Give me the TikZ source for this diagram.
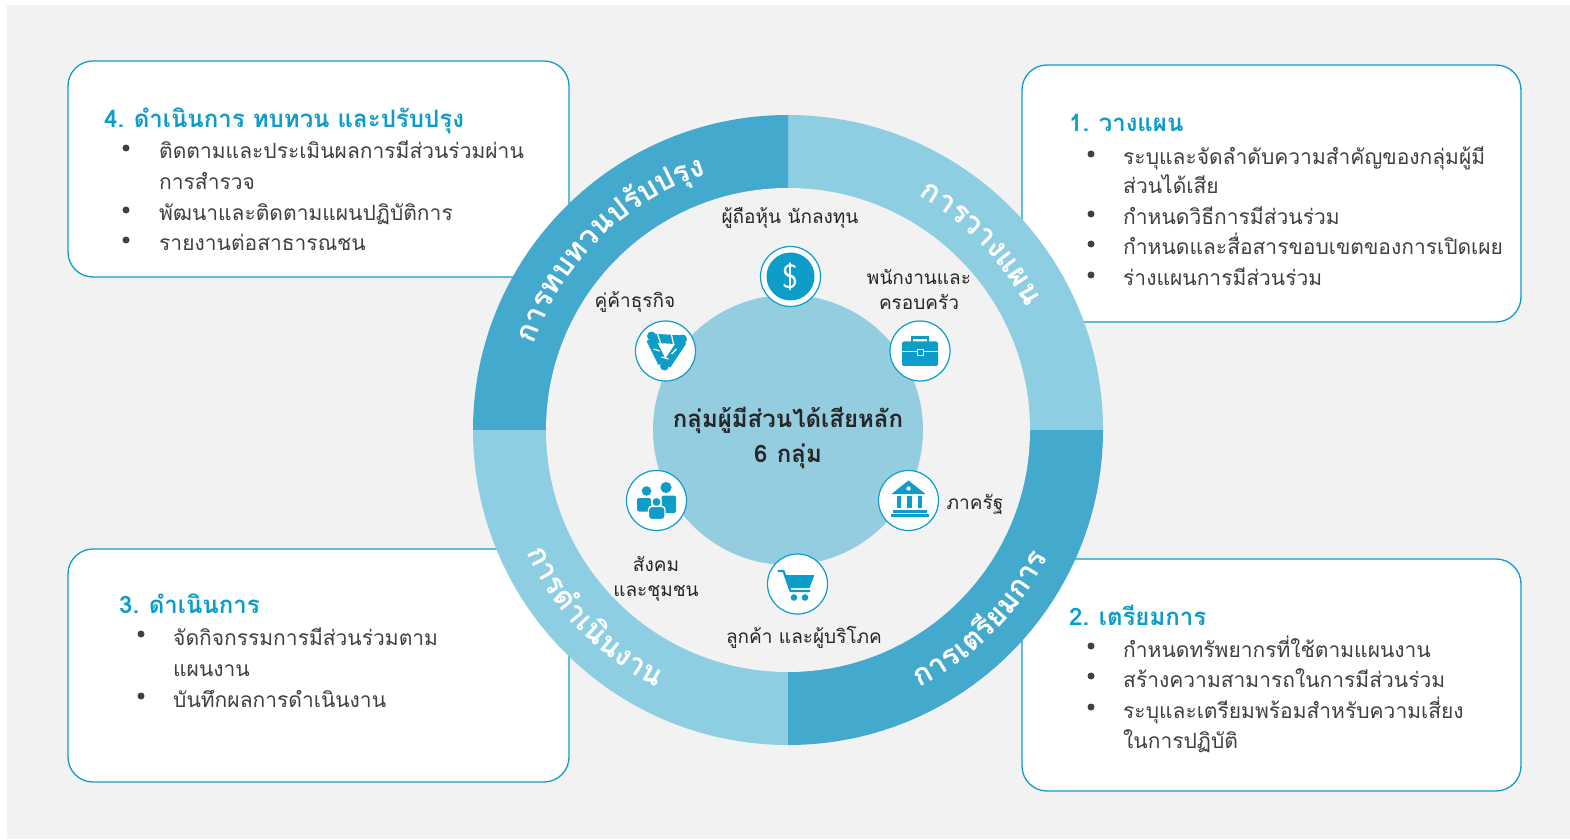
\documentclass[tikz,border=0pt]{standalone}
\usepackage{fontspec}
\setmainfont[Script=Thai]{Loma}
\usetikzlibrary{decorations.text, positioning, calc}

\definecolor{bggray}{HTML}{F2F2F2}
\definecolor{ringdark}{HTML}{43A9CD}
\definecolor{ringlight}{HTML}{8ECEE2}
\definecolor{hubblue}{HTML}{94CDDF}
\definecolor{stakecyan}{HTML}{0E9DC8}
\definecolor{bodygray}{HTML}{404040}
\newcommand{\ringfont}{\bfseries\fontsize{30}{30}\selectfont}

\tikzset{
  stepcard/.style={draw=stakecyan, line width=1.3pt, fill=white, rounded corners=25pt},
  cardhead/.style={anchor=base west, inner sep=0pt, text=stakecyan, font=\bfseries\fontsize{24}{24}\selectfont},
  cardline/.style={anchor=base west, inner sep=0pt, text=bodygray, font=\fontsize{21}{21}\selectfont},
  grouplabel/.style={anchor=base, inner sep=0pt, text=black!85, font=\fontsize{19}{19}\selectfont},
  hubtext/.style={anchor=base, inner sep=0pt, text=black!85, font=\bfseries\fontsize{24}{24}\selectfont},
  iconring/.style={circle, draw=stakecyan, line width=1.2pt, fill=white, minimum size=60pt, inner sep=0pt},
  ringtext/.style={decorate, decoration={text along path, text align=center, text color=white}}
}

\begin{document}
\begin{tikzpicture}[x=1pt,y=1pt]
\useasboundingbox (0,0) rectangle (1570,839);
\fill[bggray] (7,0) rectangle (1570,834);

% step cards
\draw[stepcard] (68,562) rectangle (569,778);
\draw[stepcard] (1022,517) rectangle (1521,774);
\draw[stepcard] (68,57) rectangle (569,290);
\draw[stepcard] (1022,48) rectangle (1521,280);

% card 1
\node[cardhead] (head1) at (1069,707) {1.\hspace{0.4em}วางแผน};
\foreach \yy/\txt [count=\i] in {674/ระบุและจัดลำดับความสำคัญของกลุ่มผู้มี, 645/ส่วนได้เสีย,
    614/กำหนดวิธีการมีส่วนร่วม, 584/กำหนดและสื่อสารขอบเขตของการเปิดเผย, 553/ร่างแผนการมีส่วนร่วม}
  \node[cardline] (line1-\i) at (1123,\yy) {\txt};
\foreach \yy in {674,614,584,553} \fill[bodygray] (1091,\yy+11) circle (3.5);

% card 2
\node[cardhead] (head2) at (1069,214) {2.\hspace{0.4em}เตรียมการ};
\foreach \yy/\txt [count=\i] in {182/กำหนดทรัพยากรที่ใช้ตามแผนงาน, 152/สร้างความสามารถในการมีส่วนร่วม,
    121/ระบุและเตรียมพร้อมสำหรับความเสี่ยง, 91/ในการปฏิบัติ}
  \node[cardline] (line2-\i) at (1123,\yy) {\txt};
\foreach \yy in {182,152,121} \fill[bodygray] (1091,\yy+11) circle (3.5);

% card 3
\node[cardhead] (head3) at (119,226) {3.\hspace{0.4em}ดำเนินการ};
\foreach \yy/\txt [count=\i] in {194/จัดกิจกรรมการมีส่วนร่วมตาม, 163/แผนงาน, 132/บันทึกผลการดำเนินงาน}
  \node[cardline] (line3-\i) at (173,\yy) {\txt};
\foreach \yy in {194,132} \fill[bodygray] (141,\yy+11) circle (3.5);

% card 4
\node[cardhead] (head4) at (104,711) {4.\hspace{0.4em}ดำเนินการ ทบทวน และปรับปรุง};
\foreach \yy/\txt [count=\i] in {680/ติดตามและประเมินผลการมีส่วนร่วมผ่าน, 649/การสำรวจ,
    618/พัฒนาและติดตามแผนปฏิบัติการ, 588/รายงานต่อสาธารณชน}
  \node[cardline] (line4-\i) at (159,\yy) {\txt};
\foreach \yy in {680,618,588} \fill[bodygray] (126,\yy+11) circle (3.5);

% ring
\coordinate (hub) at (788,409);
\foreach \a/\c in {0/ringlight, 90/ringdark, 180/ringlight, 270/ringdark}
  \fill[\c] (hub) -- ++(\a:315) arc[start angle=\a, delta angle=90, radius=315] -- cycle;
\fill[bggray] (hub) circle (242);
\fill[hubblue] (hub) circle (135);

\path[ringtext, decoration={text={|\ringfont|{ก}{า}{ร}{ท}{บ}{ท}{ว}{น}{ป}{รั}{บ}{ป}{รุ}{ง}}}]
  (hub) ++(180:268) arc[start angle=180, end angle=89, radius=268];
\path[ringtext, decoration={text={|\ringfont|{ก}{า}{ร}{ว}{า}{ง}{แ}{ผ}{น}}}]
  (hub) ++(89:268) arc[start angle=89, end angle=-1, radius=268];
\path[ringtext, decoration={text={|\ringfont|{ก}{า}{ร}{เ}{ต}{รี}{ย}{ม}{ก}{า}{ร}}}]
  (hub) ++(-89:289) arc[start angle=-89, end angle=0, radius=289];
\path[ringtext, decoration={text={|\ringfont|{ก}{า}{ร}{ดำ}{เ}{นิ}{น}{ง}{า}{น}}}]
  (hub) ++(180:289) arc[start angle=180, end angle=268, radius=289];

% hub text
\node[hubtext] (hub1) at (788,412) {กลุ่มผู้มีส่วนได้เสียหลัก};
\node[hubtext] (hub2) at (788,377) {6\hspace{0.4em}กลุ่ม};

% stakeholder icons
\node[iconring] (investor) at (790.5,562.5) {};
\node[iconring] (staff) at (920,488) {};
\node[iconring] (state) at (908.5,338.5) {};
\node[iconring] (customer) at (797.5,255) {};
\node[iconring] (society) at (656.5,338.5) {};
\node[iconring] (partner) at (665.5,488) {};

\fill[stakecyan] (investor) circle (24);
\node[text=white, font=\sffamily\fontsize{34}{34}\selectfont] (dollar) at (investor) {\$};

\begin{scope}[shift={(staff.center)}, stakecyan]
  \draw[line width=2.6pt] (-8,9) -- (-8,13.5) -- (8,13.5) -- (8,9);
  \fill[rounded corners=2pt] (-18,-15) rectangle (18,9.5);
  \draw[white, line width=1pt] (-18,-1) -- (18,-1);
  \fill[draw=white, line width=0.8pt] (-3,-4) rectangle (3,2);
\end{scope}

\begin{scope}[shift={(state.center)}, stakecyan]
  \fill (-17,6.5) -- (0,20) -- (17,6.5) -- cycle;
  \fill[white] (0,12) circle (2.2);
  \foreach \cx in {-9.5,1,11.5} \fill (\cx-2.3,-7.5) rectangle (\cx+2.3,4.5);
  \fill (-16,-12.5) rectangle (18,-9);
  \fill (-18,-16) rectangle (20,-13.5);
\end{scope}

\begin{scope}[shift={(customer.center)}, stakecyan]
  \draw[line width=2.2pt, line cap=round, line join=round] (-19,13) -- (-14,13) -- (-7,-7) -- (12,-7);
  \fill (-12.5,9) -- (17,9) -- (12,-4) -- (-8,-4) -- cycle;
  \fill (-3.5,-13.5) circle (3.3);
  \fill (7.5,-13.5) circle (3.3);
\end{scope}

\begin{scope}[shift={(society.center)}, stakecyan]
  \fill (-10,9.5) circle (4.8);
  \fill[rounded corners=2pt] (-19.5,-11) rectangle (-5.5,2.5);
  \fill (9.5,13) circle (5.6);
  \fill[rounded corners=2pt] (5,-12.5) rectangle (19.5,5);
  \fill[draw=white, line width=1.3pt] (0,-1.5) circle (4.8);
  \fill[draw=white, line width=1.3pt, rounded corners=3pt] (-8,-19) rectangle (8.5,-6);
\end{scope}

\begin{scope}[shift={(partner.center)}, stakecyan]
  \draw[line width=9pt] (-16,13) -- (18,11);
  \draw[line width=9pt] (-15,12) -- (-3,-12);
  \draw[line width=9pt] (17,10) -- (1,-14);
  \fill (-14,15) circle (4.5);
  \fill (17,12) circle (4.5);
  \fill (-1,-15) circle (4.5);
  \draw[white, line width=1.2pt] (-5,8) -- (-8,17) (8,7) -- (6,16);
  \draw[white, line width=1.2pt] (-12,2) -- (-6,0) (11,2) -- (6,-3);
  \draw[white, line width=1.2pt] (-4,-6) -- (3,-8);
\end{scope}

% stakeholder labels
\node[grouplabel] (investorlbl) at (790,615) {ผู้ถือหุ้น นักลงทุน};
\node[grouplabel] (stafflbl1) at (919,554) {พนักงานและ};
\node[grouplabel] (stafflbl2) at (919,529.5) {ครอบครัว};
\node[grouplabel] (statelbl) at (975,330) {ภาครัฐ};
\node[grouplabel] (customerlbl) at (804,195.5) {ลูกค้า และผู้บริโภค};
\node[grouplabel] (societylbl1) at (656,268) {สังคม};
\node[grouplabel] (societylbl2) at (656,242.5) {และชุมชน};
\node[grouplabel] (partnerlbl) at (635,531.5) {คู่ค้าธุรกิจ};
\end{tikzpicture}
\end{document}
